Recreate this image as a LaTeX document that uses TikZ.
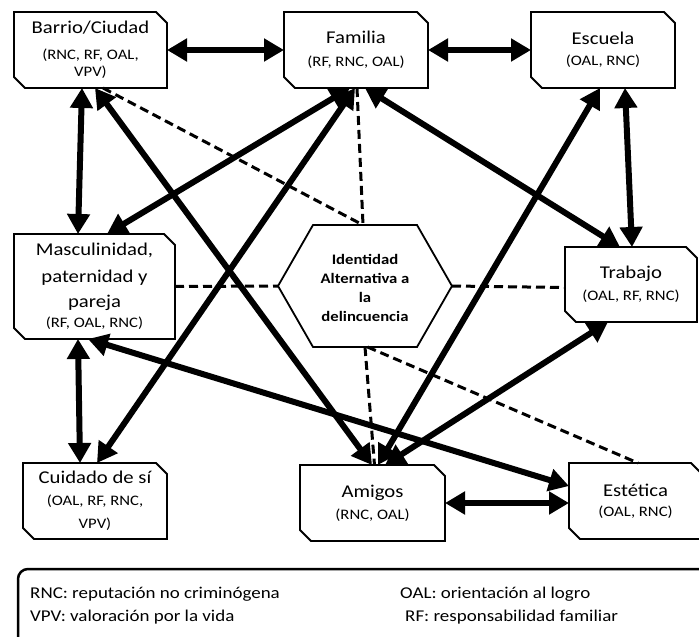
\documentclass[tikz,border=0pt]{standalone}
\usepackage{fontspec}
\setmainfont{Carlito}[FakeStretch=1.15]
\usetikzlibrary{arrows.meta,calc}

\newcommand\ttl{\fontsize{18}{26}\selectfont}
\newcommand\chamferbox[1]{%
  \draw[boxline] (#1.north west) -- ([xshift=-11pt]#1.north east) -- ([yshift=-11pt]#1.north east)
    -- (#1.south east) -- ([xshift=11pt]#1.south west) -- ([yshift=11pt]#1.south west) -- cycle;}

\tikzset{
  box/.style={rectangle, inner sep=0pt, outer sep=0pt, align=center,
    font=\fontsize{14.5}{21}\selectfont},
  boxline/.style={line width=1.8pt, line join=miter},
  hexline/.style={line width=1.8pt},
  hextext/.style={align=center, inner sep=0pt, font=\fontsize{14.5}{19}\selectfont\bfseries},
  biarrow/.style={line width=6pt,
    {Triangle[length=20pt,width=22pt]}-{Triangle[length=20pt,width=22pt]}},
  dashline/.style={line width=3pt, dash pattern=on 9pt off 5pt},
  legendline/.style={line width=2.5pt, rounded corners=10pt},
  legtext/.style={anchor=base west, inner sep=0pt, font=\fontsize{16.5}{20}\selectfont},
}

\begin{document}
\begin{tikzpicture}[x=1pt, y=-1pt]
\useasboundingbox (0,0) rectangle (699,637);
\fill[white] (0,0) rectangle (699,637);

% domain boxes
\node[box, minimum width=153pt, minimum height=76pt] (barrio) at (90.5,50)
  {{\ttl Barrio/Ciudad}\\[5pt](RNC, RF, OAL,\\[-4pt]VPV)};
\node[box, minimum width=144pt, minimum height=76pt] (familia) at (356,50)
  {{\ttl Familia}\\[2pt](RF, RNC, OAL)};
\node[box, minimum width=144pt, minimum height=76pt] (escuela) at (603,50)
  {{\ttl Escuela}\\(OAL, RNC)};
\node[box, minimum width=161pt, minimum height=105pt] (masc) at (94.5,286.5)
  {{\ttl Masculinidad,}\\[6pt]{\ttl paternidad y}\\[4pt]{\ttl pareja}\\[-1pt](RF, OAL, RNC)};
\node[box, minimum width=132pt, minimum height=75pt] (trabajo) at (631,284.5)
  {{\ttl Trabajo}\\[1pt](OAL, RF, RNC)};
\node[box, minimum width=144pt, minimum height=76pt] (cuidado) at (95,501)
  {{\ttl Cuidado de sí}\\[1pt](OAL, RF, RNC,\\[2pt]VPV)};
\node[box, minimum width=145pt, minimum height=76pt] (amigos) at (372.5,503)
  {{\ttl Amigos}\\[1pt](RNC, OAL)};
\node[box, minimum width=133pt, minimum height=76pt] (estetica) at (635.5,501)
  {{\ttl Estética}\\[-1pt](OAL, RNC)};

\foreach \b in {barrio,familia,escuela,masc,trabajo,cuidado,amigos,estetica}
  {\chamferbox{\b}}

% central hexagon
\draw[hexline] (313,225) -- (417,225) -- (452,286) -- (417,347) -- (313,347) -- (278,286) -- cycle;
\coordinate (hextop) at (363,225);
\coordinate (hexleft) at (278,286);
\coordinate (hexright) at (452,286);
\coordinate (hexbot) at (365,347);
\node[hextext] (ident) at (365,288) {Identidad\\Alternativa a\\la\\delincuencia};

% dashed links to the central identity
\draw[dashline] ([xshift=12.5pt]barrio.south) -- (hextop);
\draw[dashline] ([xshift=1pt]familia.south) -- (hextop);
\draw[dashline] (masc.east) -- (hexleft);
\draw[dashline] (hexright) -- ([yshift=-3pt]trabajo.west);
\draw[dashline] (hexbot) -- ([xshift=2pt]amigos.north);
\draw[dashline] ([xshift=2.5pt]hexbot) -- ([xshift=2.5pt]estetica.north);

% two-way relations
\draw[biarrow] (barrio.east) -- (barrio.east -| familia.west);
\draw[biarrow] (familia.east) -- (escuela.west);
\draw[biarrow] ([xshift=-8.5pt]barrio.south) -- ([xshift=-16.5pt]masc.north);
\draw[biarrow] ([xshift=22pt]escuela.south) -- ([xshift=1pt]trabajo.north);
\draw[biarrow] ([xshift=-16.5pt]masc.south) -- ([xshift=-15pt]cuidado.north);
\draw[biarrow] (amigos.east) -- (amigos.east -| estetica.west);
\draw[biarrow] ([xshift=-6.5pt]masc.south) -- ([yshift=15pt]estetica.west);
\draw[biarrow] ([xshift=4.5pt]barrio.south) -- ([xshift=-0.5pt]amigos.north);
\draw[biarrow] ([xshift=-6pt]familia.south) -- ([xshift=12.5pt]masc.north);
\draw[biarrow] ([xshift=-1pt]familia.south) -- ([xshift=2pt]cuidado.north);
\draw[biarrow] ([xshift=9pt]familia.south) -- ([xshift=-11pt]trabajo.north);
\draw[biarrow] ([xshift=-3pt]escuela.south) -- ([xshift=5.5pt]amigos.north);
\draw[biarrow] ([xshift=-23pt]trabajo.south) -- ([xshift=12.5pt]amigos.north);

% legend
\draw[legendline] (18,569) rectangle (720,660);
\node[legtext] (lrnc) at (30,598) {RNC: reputación no criminógena};
\node[legtext] (lvpv) at (30,621) {VPV: valoración por la vida};
\node[legtext] (loal) at (400,598) {OAL: orientación al logro};
\node[legtext] (lrf)  at (405,621) {RF: responsabilidad familiar};
\end{tikzpicture}
\end{document}
